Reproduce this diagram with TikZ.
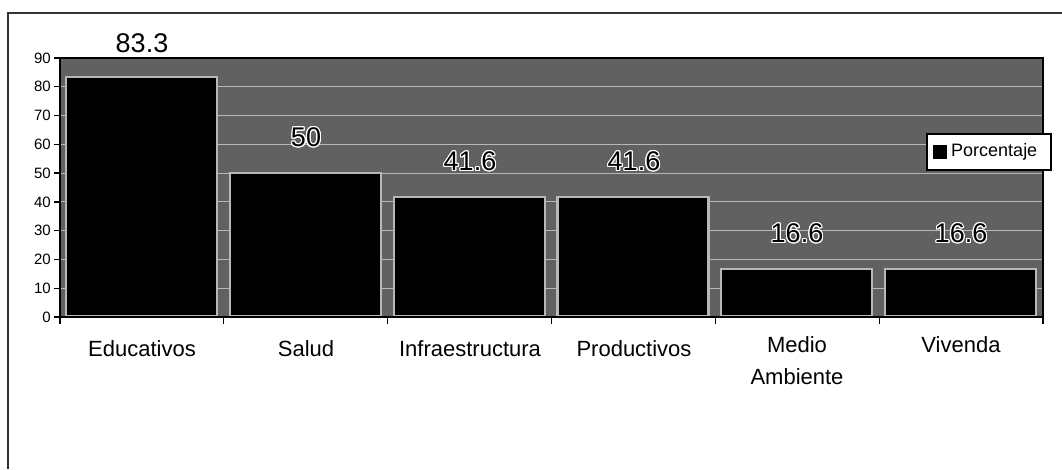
\documentclass[tikz,border=0pt]{standalone}
\usepackage{fontspec}
\setmainfont{Liberation Sans}
\usepackage{contour}
\contourlength{1.1pt}
\contournumber{16}
\tikzset{
  frameline/.style={draw=black!80, line width=1.3pt},
  gridl/.style={draw=white!72!black, line width=0.9pt},
  barbox/.style={fill=black, draw=white!72!black, line width=2.2pt},
  axisl/.style={draw=black, line width=1.3pt},
  ticklab/.style={font=\fontsize{15}{18}\selectfont, anchor=east, inner sep=0pt},
  catlab/.style={font=\fontsize{22}{32}\selectfont, align=center, anchor=north, inner sep=0pt},
  vallab/.style={font=\fontsize{27}{30}\selectfont, inner sep=0pt},
  legbox/.style={fill=white, draw=black, line width=1.2pt, minimum width=124pt, minimum height=36pt, inner sep=0pt},
  legtext/.style={font=\fontsize{18}{20}\selectfont, anchor=west, inner sep=0pt},
}
\begin{document}
\begin{tikzpicture}[x=1pt,y=-1pt]
\useasboundingbox (0,0) rectangle (1062,469);
% outer frame
\draw[frameline] (1062,13) -- (8,13) -- (8,469);
% plot area
\fill[black!62] (60,58) rectangle (1043,317);
\foreach \v in {10,20,...,80}{
  \draw[gridl] (60,{317-2.878*\v}) -- (1043,{317-2.878*\v});
}
% bars
\foreach \i/\v in {0/83.3,1/50,2/41.6,3/41.6,4/16.6,5/16.6}{
  \draw[barbox] ({60+163.83*\i+6},316) rectangle ({60+163.83*\i+157},{317-2.878*\v});
}
\draw[draw=black, line width=1.2pt] (60,58) -- (1043,58) -- (1043,317);
% axes
\draw[axisl] (60,58) -- (60,317) -- (1043,317);
\foreach \v in {0,10,...,90}{
  \draw[axisl] (54,{317-2.878*\v}) -- (60,{317-2.878*\v});
  \node[ticklab] (t\v) at (51,{317-2.878*\v}) {\v};
}
\foreach \i in {0,...,6}{
  \draw[axisl] ({60+163.83*\i},317) -- ({60+163.83*\i},324);
}
% value labels
\node[vallab] (v1) at (142,43) {83.3};
\node[vallab] (v2) at (306,138) {\contour{white}{50}};
\node[vallab] (v3) at (470,162) {\contour{white}{41.6}};
\node[vallab] (v4) at (634,162) {\contour{white}{41.6}};
\node[vallab] (v5) at (797,234) {\contour{white}{16.6}};
\node[vallab] (v6) at (961,234) {\contour{white}{16.6}};
% category labels
\node[catlab] (c1) at (142,340) {Educativos};
\node[catlab] (c2) at (306,340) {Salud};
\node[catlab] (c3) at (470,340) {Infraestructura};
\node[catlab] (c4) at (634,340) {Productivos};
\node[catlab] (c5) at (797,336) {Medio\\Ambiente};
\node[catlab] (c6) at (961,336) {Vivenda};
% legend
\node[legbox] (leg) at (989,152) {};
\node[fill=black, minimum size=14pt, inner sep=0pt] (legkey) at (940,152) {};
\node[legtext] (legt) at (951,152) {Porcentaje};
\end{tikzpicture}
\end{document}
